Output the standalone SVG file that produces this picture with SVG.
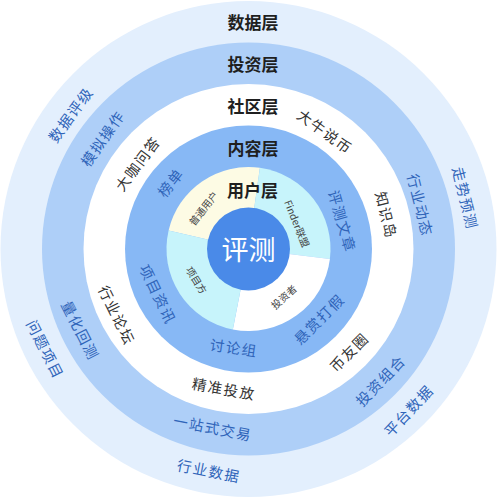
<svg xmlns="http://www.w3.org/2000/svg" width="497" height="497" viewBox="0 0 497 497">
<style>
text{font-family:"Noto Sans CJK SC","Noto Sans",sans-serif;text-anchor:middle;dominant-baseline:central}
.title{font-size:17px;font-weight:bold;fill:#1f1f1f}
.lb{font-size:14.5px;fill:#2f64b9;letter-spacing:1.5px}
.ld{font-size:14.5px;fill:#333;letter-spacing:1.5px}
.lu{font-size:10px;fill:#444}
.core{font-size:27px;fill:#fff}
</style>
<rect width="497" height="497" fill="#fff"/>
<g id="rings">
<circle id="ring-data" cx="248.5" cy="249" r="248" fill="#e3effd"/>
<circle id="ring-invest" cx="248.5" cy="249" r="206.5" fill="#aecff8"/>
<circle id="ring-community" cx="248.5" cy="249" r="165" fill="#ffffff"/>
<circle id="ring-content" cx="248.5" cy="249" r="123.5" fill="#87b8f5"/>
<g id="ring-user">
<path d="M248.5 249 L168.6 230.55 A82 82 0 0 1 259.9 167.8 Z" fill="#fdfbe4"/>
<path d="M248.5 249 L259.9 167.8 A82 82 0 0 1 329.9 259 Z" fill="#c7f4fb"/>
<path d="M248.5 249 L329.9 259 A82 82 0 0 1 232.85 329.5 Z" fill="#ffffff"/>
<path d="M248.5 249 L232.85 329.5 A82 82 0 0 1 168.6 230.55 Z" fill="#c7f4fb"/>
</g>
</g>
<g id="core">
<circle cx="248.5" cy="249" r="41.5" fill="#4a8ae8"/>
<text class="core" x="248.5" y="248">评测</text>
</g>
<g id="titles">
<text class="title" x="253" y="21">数据层</text>
<text class="title" x="253" y="63">投资层</text>
<text class="title" x="253" y="105">社区层</text>
<text class="title" x="253" y="147">内容层</text>
<text class="title" x="252.5" y="189">用户层</text>
</g>
<g id="data-layer">
<g id="n-shujupingji"><text class="lb" transform="translate(70,114) rotate(-54)">数据评级</text></g>
<g id="n-zoushiyuce"><text class="lb" transform="translate(466,198) rotate(76)">走势预测</text></g>
<g id="n-pingtaishuju"><text class="lb" transform="translate(408,410) rotate(-47)">平台数据</text></g>
<g id="n-hangyeshuju"><text class="lb" transform="translate(209,470) rotate(11)">行业数据</text></g>
<g id="n-wentixiangmu"><text class="lb" transform="translate(46,349) rotate(63)">问题项目</text></g>
</g>
<g id="invest-layer">
<g id="n-monicaozuo"><text class="lb" transform="translate(102,138) rotate(-55)">模拟操作</text></g>
<g id="n-hangyedongtai"><text class="lb" transform="translate(421,205) rotate(76)">行业动态</text></g>
<g id="n-touzizuhe"><text class="lb" transform="translate(380,380) rotate(-46)">投资组合</text></g>
<g id="n-yizhanshijiaoyi"><text class="lb" transform="translate(213,427) rotate(11)">一站式交易</text></g>
<g id="n-lianghuahuice"><text class="lb" transform="translate(81,330) rotate(63)">量化回测</text></g>
</g>
<g id="community-layer">
<g id="n-dakawenda"><text class="ld" transform="translate(137,163) rotate(-53)">大咖问答</text></g>
<g id="n-daniushuobi"><text class="ld" transform="translate(325.5,131) rotate(36)">大牛说币</text></g>
<g id="n-zhishidao"><text class="ld" transform="translate(387,215) rotate(76)">知识岛</text></g>
<g id="n-biyouquan"><text class="ld" transform="translate(348.5,351.5) rotate(-45)">币友圈</text></g>
<g id="n-jingzhuntoufang"><text class="ld" transform="translate(224,388) rotate(10)">精准投放</text></g>
<g id="n-hangyeluntan"><text class="ld" transform="translate(117.5,315) rotate(64)">行业论坛</text></g>
</g>
<g id="content-layer">
<g id="n-bangdan"><text class="lb" transform="translate(170,182) rotate(-52)">榜单</text></g>
<g id="n-pingcewenzhang"><text class="lb" transform="translate(343,221) rotate(74)">评测文章</text></g>
<g id="n-xuanshangdajia"><text class="lb" transform="translate(318.5,318.5) rotate(-45)">悬赏打假</text></g>
<g id="n-taolunzu"><text class="lb" transform="translate(234,347) rotate(8)">讨论组</text></g>
<g id="n-xiangmuzixun"><text class="lb" transform="translate(158.5,294) rotate(64)">项目资讯</text></g>
</g>
<g id="user-layer">
<g id="n-putongyonghu"><text class="lu" transform="translate(203,208) rotate(-52)">普通用户</text></g>
<g id="n-finder"><text class="lu" transform="translate(297.5,223.5) rotate(68)">Finder联盟</text></g>
<g id="n-touzizhe"><text class="lu" transform="translate(283.5,296.5) rotate(-42)">投资者</text></g>
<g id="n-xiangmufang"><text class="lu" transform="translate(197,280) rotate(58)">项目方</text></g>
</g>
</svg>
